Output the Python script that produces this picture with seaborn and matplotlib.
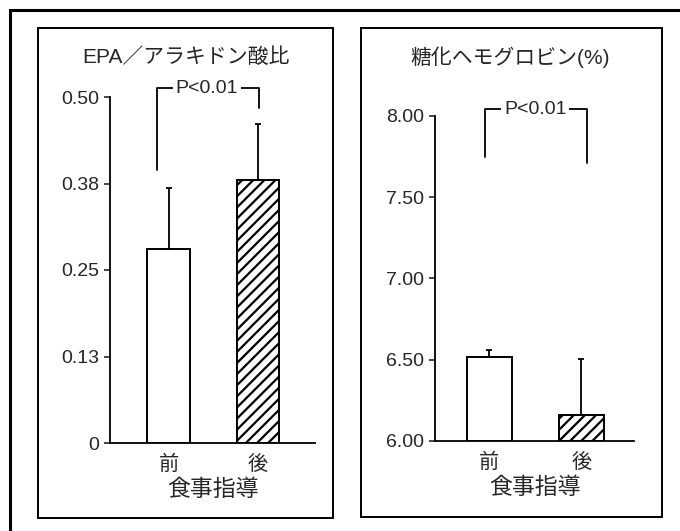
import matplotlib
matplotlib.use("Agg")
import matplotlib.pyplot as plt
import seaborn as sns
import pandas as pd
from matplotlib.patches import Rectangle

# ---- data ----
categories = ["前", "後"]
epa_means = [0.280, 0.380]
epa_err_up = [0.088, 0.081]
epa_ticks = [0, 0.125, 0.25, 0.375, 0.50]
epa_ticklabels = ["0", "0.13", "0.25", "0.38", "0.50"]

hba_means = [6.517, 6.158]
hba_err_up = [0.042, 0.343]
hba_ticks = [6.0, 6.5, 7.0, 7.5, 8.0]
hba_ticklabels = ["6.00", "6.50", "7.00", "7.50", "8.00"]

titles = ["EPA／アラキドン酸比", "糖化ヘモグロビン(%)"]
xlabel = "食事指導"
p_text = "P<0.01"
# bracket: top, left-leg bottom, right-leg bottom
epa_bracket = [0.513, 0.3945, 0.484]
hba_bracket = [8.041, 7.75, 7.71]

sns.set_style("white")
plt.rcParams["font.family"] = ["Liberation Sans", "Noto Sans CJK JP", "DejaVu Sans"]
plt.rcParams["hatch.linewidth"] = 1.6

fig = plt.figure(figsize=(6.8, 5.31), dpi=100)
W, H = 680, 531

def fx(px):
    return px / W

def fy(py):
    return 1 - py / H

# outer frame
fig.patches.append(Rectangle((fx(10), -0.2), 1.5, fy(10) + 0.2, transform=fig.transFigure,
                             fill=False, edgecolor="black", linewidth=2.2))
# inner panel boxes
for (x0, y0, x1, y1) in [(38, 28, 333, 518), (361, 28, 662, 517)]:
    fig.patches.append(Rectangle((fx(x0), fy(y1)), fx(x1) - fx(x0), fy(y0) - fy(y1),
                                 transform=fig.transFigure, fill=False,
                                 edgecolor="black", linewidth=1.4))

ax1 = fig.add_axes([fx(110), fy(443), fx(315) - fx(110), fy(97) - fy(443)])
ax2 = fig.add_axes([fx(435), fy(440.7), fx(634) - fx(435), fy(116) - fy(440.7)])

panels = [
    (ax1, epa_means, epa_err_up, epa_ticks, epa_ticklabels, (0, 0.5), (-0.654, 1.637),
     0.48, epa_bracket, (-0.128, 1.011), 0.427, titles[0], 186),
    (ax2, hba_means, hba_err_up, hba_ticks, hba_ticklabels, (6.0, 8.0), (-0.589, 1.574),
     0.49, hba_bracket, (-0.046, 1.06), 0.50, titles[1], 510),
]

for (ax, means, errs, ticks, tlabels, ylim, xlim, width, br, brx, ptx, title, tx) in panels:
    df = pd.DataFrame({"cond": categories, "val": means})
    base = ylim[0]
    sns.barplot(data=df, x="cond", y="val", ax=ax, width=width, color="white",
                edgecolor="black", linewidth=1.4, errorbar=None)
    for p, m in zip(ax.patches, means):
        p.set_y(base)
        p.set_height(m - base)
    ax.patches[1].set_hatch("///")
    ax.errorbar(range(len(means)), means, yerr=[[0] * len(errs), errs], fmt="none",
                ecolor="black", elinewidth=1.3, capsize=2.5, capthick=1.3)
    ax.set_ylim(*ylim)
    ax.set_xlim(*xlim)
    ax.set_yticks(ticks)
    ax.set_yticklabels(tlabels, fontsize=14)
    ax.tick_params(axis="y", direction="out", length=4, width=1.2, pad=4, left=True)
    ax.tick_params(axis="x", length=0, pad=8)
    for lab in ax.get_xticklabels():
        lab.set_fontsize(14.5)
        lab.set_family(["Noto Sans CJK JP"])
    ax.set_xlabel(xlabel, fontsize=16.5, family=["Noto Sans CJK JP"], labelpad=2)
    ax.set_ylabel("")
    sns.despine(ax=ax)
    for s in ["left", "bottom"]:
        ax.spines[s].set_linewidth(1.3)
        ax.spines[s].set_color("black")
    # bracket
    top, lb, rb = br
    ax.plot([brx[0], brx[0], brx[1], brx[1]], [lb, top, top, rb], color="black",
            linewidth=1.3, clip_on=False)
    ax.text(ptx, top, p_text, ha="center", va="center", fontsize=14,
            bbox=dict(facecolor="white", edgecolor="none", pad=2), clip_on=False)
    fig.text(fx(tx), fy(57), title, ha="center", va="center", fontsize=15)

fig.savefig("out.png", dpi=100)
